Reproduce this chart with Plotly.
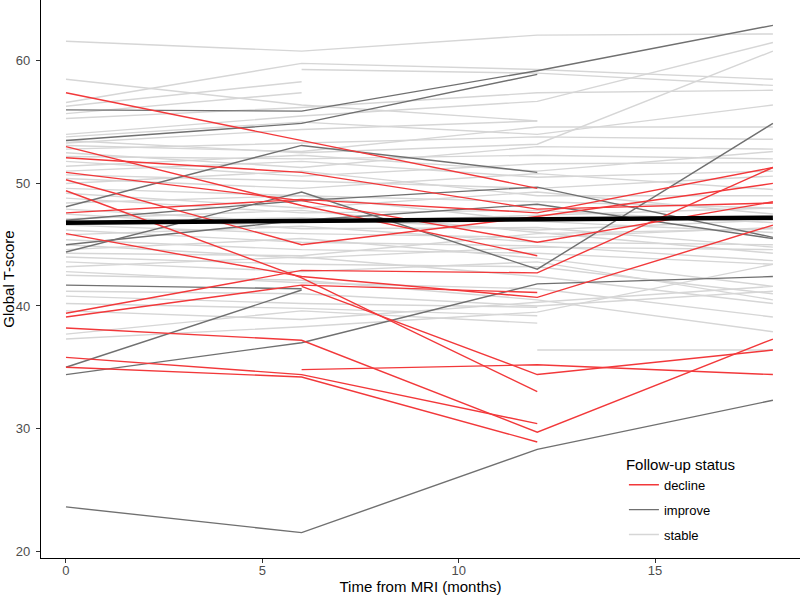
import plotly.graph_objects as go

times = [0, 6, 12, 18]
N = None

# Follow-up status: decline (red)
decline = [
    [57.4, 53.5, 49.6, N],
    [53.0, 48.2, 44.1, N],
    [52.1, 50.9, 47.9, 48.4],
    [50.9, 48.6, 45.2, 48.5],
    [50.3, 45.0, 47.3, 50.0],
    [49.4, 42.3, 33.0, N],
    [47.6, 48.7, 47.6, 51.3],
    [45.9, 42.4, 40.7, 46.6],
    [39.4, 42.9, 42.7, 51.3],
    [39.1, 41.7, 41.1, N],
    [38.2, 37.2, 29.7, 37.3],
    [35.8, 34.4, 30.4, N],
    [35.0, 34.2, 28.9, N],
    [N, 34.8, 35.2, 34.4],
    [N, 41.6, 34.4, 36.4],
]

# Follow-up status: improve (dark grey)
improve = [
    [23.6, 21.5, 28.3, 32.3],
    [56.0, 55.9, 59.2, 62.9],
    [53.5, 54.9, 58.9, N],
    [48.1, 53.1, 50.9, N],
    [44.4, 49.3, 43.0, 54.9],
    [45.0, 47.0, 48.3, 45.5],
    [47.0, 48.6, 49.7, 45.6],
    [41.7, 41.4, N, N],
    [35.0, 41.3, N, N],
    [34.4, 37.0, 41.8, 42.4],
]

# Follow-up status: stable (light grey)
stable = [
    [61.6, 60.8, 62.1, 62.2],
    [58.5, 56.4, 55.1, N],
    [56.6, 59.8, 59.3, 58.5],
    [56.3, 58.3, N, N],
    [55.7, 57.4, N, N],
    [N, 59.3, 59.0, 58.0],
    [55.3, 56.2, 57.4, 57.6],
    [54.0, 55.5, 56.7, 61.5],
    [53.8, 55.0, 54.0, 56.4],
    [53.5, 52.5, 53.2, 60.8],
    [53.3, 54.4, 55.1, N],
    [53.1, 52.6, 54.6, 54.6],
    [52.8, 53.3, 53.8, 53.6],
    [52.5, 51.3, 53.0, 52.8],
    [52.2, 52.0, 52.3, 52.0],
    [51.8, 50.6, 51.6, 51.7],
    [51.4, 52.3, 51.0, 52.6],
    [51.0, 51.8, 50.5, 51.0],
    [50.7, 50.2, 49.6, 50.6],
    [50.4, 49.6, 50.8, 49.5],
    [50.0, 51.0, 49.0, 49.0],
    [49.6, 49.0, 48.5, 48.0],
    [49.2, 48.0, 49.3, 47.5],
    [48.8, 47.6, 47.8, 46.8],
    [48.4, 49.0, 46.9, 46.0],
    [47.9, 46.8, 47.4, 48.0],
    [47.5, 46.3, 46.4, 44.8],
    [47.1, 47.8, 46.0, 44.3],
    [46.9, 47.2, 46.2, 47.0],
    [46.6, 45.9, 45.6, 46.4],
    [46.2, 45.2, 44.9, 43.7],
    [45.8, 46.5, 45.2, 45.0],
    [45.4, 44.6, 44.3, 43.4],
    [45.0, 43.9, 44.8, 44.6],
    [44.6, 45.5, 43.9, 41.6],
    [44.3, 44.1, 45.9, 46.3],
    [44.0, 43.4, 43.2, 41.0],
    [43.6, 42.8, 43.6, 40.5],
    [43.2, 44.0, 42.4, 40.2],
    [42.8, 41.9, 41.4, 39.1],
    [42.5, 42.1, 40.5, 37.9],
    [41.2, 41.0, 40.0, 41.2],
    [40.8, 40.2, 39.9, N],
    [40.2, 39.8, 39.2, N],
    [39.6, 38.9, 40.3, 41.6],
    [37.7, 39.6, 38.6, N],
    [37.3, 38.3, 39.5, 43.4],
    [N, N, 36.4, 36.4],
]

# Overall linear trend
trend_x = [0, 18]
trend_y = [46.8, 47.2]

x_ticks = [0, 5, 10, 15]
y_ticks = [20, 30, 40, 50, 60]


def flatten(series):
    xs, ys = [], []
    for s in series:
        for t, v in zip(times, s):
            if v is not None:
                xs.append(t)
                ys.append(v)
        xs.append(None)
        ys.append(None)
    return xs, ys


fig = go.Figure()
groups = [
    ("stable", stable, "#D6D6D6", "c", 3),
    ("improve", improve, "#707070", "b", 2),
    ("decline", decline, "#F2383A", "a", 1),
]
for name, data, color, lg, rank in groups:
    xs, ys = flatten(data)
    fig.add_trace(go.Scatter(
        x=xs, y=ys, mode="lines", name=name, legendgroup=lg, legendrank=rank,
        line=dict(color=color, width=1.4), connectgaps=False,
        hoverinfo="skip",
    ))

fig.add_trace(go.Scatter(
    x=trend_x, y=trend_y, mode="lines", showlegend=False,
    line=dict(color="black", width=4.5), hoverinfo="skip",
))

font_family = "Liberation Sans, Arial, Helvetica, sans-serif"
fig.update_layout(
    width=800, height=596,
    margin=dict(l=41, r=0, t=0, b=38),
    paper_bgcolor="white", plot_bgcolor="white",
    font=dict(family=font_family, size=13, color="black"),
    xaxis=dict(
        range=[-0.636, 18.69], tickvals=x_ticks, ticktext=[str(v) for v in x_ticks],
        showgrid=False, zeroline=False, showline=True, linecolor="black", linewidth=1.2,
        ticks="outside", ticklen=4, tickcolor="#333333", tickwidth=1,
        tickfont=dict(size=13, color="#4D4D4D"), ticklabelstandoff=-4,
        title=dict(text="Time from MRI (months)", font=dict(size=15, color="black"), standoff=2),
        automargin=False,
    ),
    yaxis=dict(
        range=[19.43, 64.97], tickvals=y_ticks, ticktext=[str(v) for v in y_ticks],
        showgrid=False, zeroline=False, showline=True, linecolor="black", linewidth=1.2,
        ticks="outside", ticklen=4, tickcolor="#333333", tickwidth=1,
        tickfont=dict(size=13, color="#4D4D4D"), ticklabelstandoff=3,
        title=dict(text="Global T-score", font=dict(size=15, color="black"), standoff=1),
        automargin=False,
    ),
    legend=dict(
        x=0.768, y=0.193, xanchor="left", yanchor="top",
        bgcolor="rgba(255,255,255,0)",
        title=dict(text="Follow-up status", font=dict(size=15, color="black")),
        font=dict(size=13, color="black"),
        traceorder="grouped", tracegroupgap=5,
    ),
    showlegend=True,
)

fig.write_html(
    "out.html",
    config={"displayModeBar": False},
    post_script="document.body.style.margin='0';document.body.style.overflow='hidden';",
)
